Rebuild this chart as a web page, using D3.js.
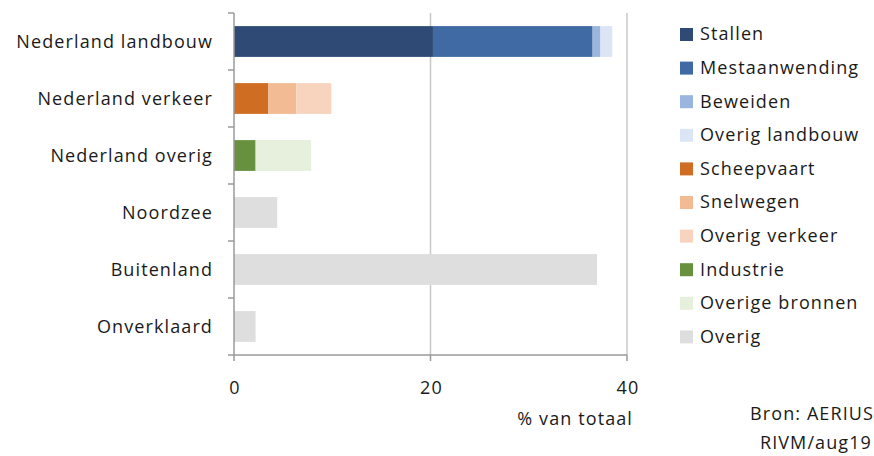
<!DOCTYPE html>
<html>
<head>
<meta charset="utf-8">
<script src="https://cdn.jsdelivr.net/npm/d3@7"></script>
<style>
  body { margin: 0; background: #fff; }
  svg text { font-family: "Open Sans", sans-serif; fill: #1a1a1a; font-size: 18px; letter-spacing: 1.1px; }
</style>
</head>
<body>
<div id="chart"></div>
<script>
const categories = ["Nederland landbouw", "Nederland verkeer", "Nederland overig", "Noordzee", "Buitenland", "Onverklaard"];
const seriesNames = ["Stallen", "Mestaanwending", "Beweiden", "Overig landbouw", "Scheepvaart", "Snelwegen", "Overig verkeer", "Industrie", "Overige bronnen", "Overig"];
const seriesColors = ["#2e4a75", "#3f6aa3", "#9ab5de", "#dce5f5", "#cf6e22", "#f2bb94", "#f8d3be", "#67913f", "#e6f0dc", "#dedede"];
// values per series, in category order (% van totaal)
const stallen = [20.25, 0, 0, 0, 0, 0];
const mestaanwending = [16.25, 0, 0, 0, 0, 0];
const beweiden = [0.8, 0, 0, 0, 0, 0];
const overigLandbouw = [1.2, 0, 0, 0, 0, 0];
const scheepvaart = [0, 3.5, 0, 0, 0, 0];
const snelwegen = [0, 2.85, 0, 0, 0, 0];
const overigVerkeer = [0, 3.55, 0, 0, 0, 0];
const industrie = [0, 0, 2.2, 0, 0, 0];
const overigeBronnen = [0, 0, 5.65, 0, 0, 0];
const overig = [0, 0, 0, 4.4, 36.95, 2.2];
const xTicks = [0, 20, 40];

const seriesValues = [stallen, mestaanwending, beweiden, overigLandbouw, scheepvaart, snelwegen, overigVerkeer, industrie, overigeBronnen, overig];

const width = 874, height = 456;
const svg = d3.select("#chart").append("svg")
    .attr("width", width)
    .attr("height", height);

const x = d3.scaleLinear().domain([0, 40]).range([234, 627]);
const y = d3.scaleBand().domain(categories).range([13, 355]).paddingInner(0.46).paddingOuter(0.23);

// table for stacking
const table = categories.map((c, i) => {
    const row = { cat: c };
    seriesNames.forEach((s, j) => row[s] = seriesValues[j][i]);
    return row;
});
const stack = d3.stack().keys(seriesNames)(table);
const color = d3.scaleOrdinal().domain(seriesNames).range(seriesColors);

// gridlines
svg.append("g").selectAll("line")
    .data(xTicks.filter(t => t > 0))
    .enter().append("line")
    .attr("x1", d => x(d)).attr("x2", d => x(d))
    .attr("y1", 13).attr("y2", 355)
    .attr("stroke", "#c8c8c8").attr("stroke-width", 1.5);

// bars
svg.append("g").selectAll("g")
    .data(stack)
    .enter().append("g")
    .attr("fill", d => color(d.key))
    .selectAll("rect")
    .data(d => d)
    .enter().append("rect")
    .attr("x", d => x(d[0]))
    .attr("y", d => y(d.data.cat))
    .attr("width", d => x(d[1]) - x(d[0]))
    .attr("height", y.bandwidth());

// y axis
const yEdges = d3.range(categories.length + 1).map(i => 13 + i * (342 / categories.length));
const yAxis = svg.append("g");
yAxis.append("line")
    .attr("x1", 234).attr("x2", 234).attr("y1", 13).attr("y2", 355)
    .attr("stroke", "#9a9a9a").attr("stroke-width", 1.5);
yAxis.selectAll(".ytick").data(yEdges).enter().append("line")
    .attr("x1", 228).attr("x2", 234)
    .attr("y1", d => d).attr("y2", d => d)
    .attr("stroke", "#9a9a9a").attr("stroke-width", 1.5);
yAxis.selectAll(".ylab").data(categories).enter().append("text")
    .attr("x", 213)
    .attr("y", d => y(d) + y.bandwidth() / 2)
    .attr("dy", "0.35em")
    .attr("text-anchor", "end")
    .text(d => d);

// x axis
const xAxis = svg.append("g");
xAxis.append("line")
    .attr("x1", 234).attr("x2", 627).attr("y1", 355).attr("y2", 355)
    .attr("stroke", "#9a9a9a").attr("stroke-width", 1.5);
xAxis.selectAll(".xtick").data(xTicks).enter().append("line")
    .attr("x1", d => x(d)).attr("x2", d => x(d))
    .attr("y1", 355).attr("y2", 361)
    .attr("stroke", "#9a9a9a").attr("stroke-width", 1.5);
xAxis.selectAll(".xlab").data(xTicks).enter().append("text")
    .attr("x", d => x(d) + 1)
    .attr("y", 388)
    .attr("dy", "0.35em")
    .attr("text-anchor", "middle")
    .text(d => d);

svg.append("text")
    .attr("x", 633).attr("y", 419).attr("dy", "0.35em")
    .attr("text-anchor", "end")
    .text("% van totaal");

// legend
const legend = svg.selectAll(".legend")
    .data(seriesNames)
    .enter().append("g")
    .attr("class", "legend")
    .attr("transform", (d, i) => "translate(680," + (34 + i * 33.6) + ")");

legend.append("rect")
    .attr("x", 0).attr("y", -6)
    .attr("width", 13).attr("height", 13)
    .style("fill", d => color(d));

legend.append("text")
    .attr("x", 20).attr("y", 0).attr("dy", "0.35em")
    .text(d => d);

// source
svg.append("text")
    .attr("x", 874).attr("y", 414).attr("dy", "0.35em")
    .attr("text-anchor", "end")
    .text("Bron: AERIUS");
svg.append("text")
    .attr("x", 872).attr("y", 443).attr("dy", "0.35em")
    .attr("text-anchor", "end")
    .text("RIVM/aug19");
</script>
</body>
</html>
